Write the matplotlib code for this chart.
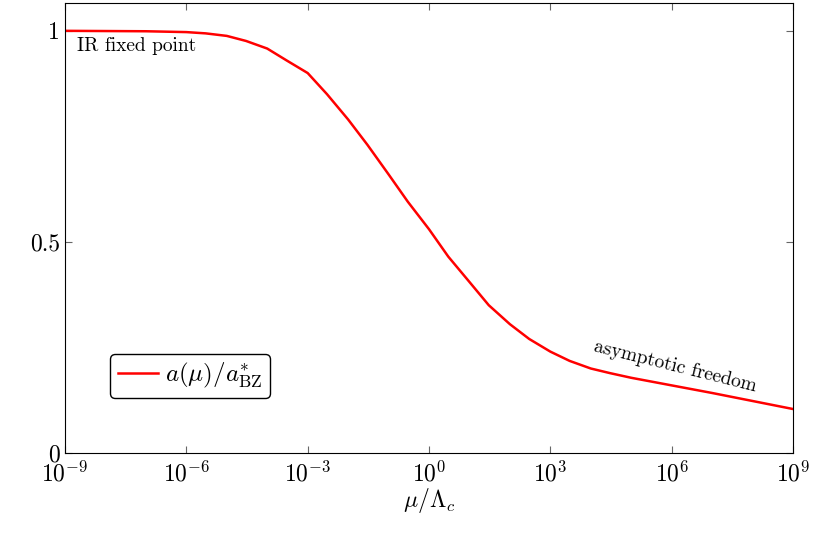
import matplotlib

matplotlib.use("Agg")

import matplotlib.pyplot as plt

plt.rcParams["mathtext.fontset"] = "cm"
plt.rcParams["font.family"] = "cmr10"
plt.rcParams["axes.formatter.use_mathtext"] = True

# curve (mu / Lambda_c, a / a*_BZ)
mu = [1e-9, 1e-8, 1e-7, 1e-6, 3e-6, 1e-5, 3e-5, 1e-4, 3e-4, 1e-3, 3e-3, 1e-2, 3e-2,
      1e-1, 3e-1, 1e0, 3e0, 1e1, 3e1, 1e2, 3e2, 1e3, 3e3, 1e4, 3e4, 1e5, 1e6, 1e7, 1e8, 1e9]
ratio = [1.0, 0.9995, 0.999, 0.997, 0.994, 0.988, 0.976, 0.958, 0.93, 0.9, 0.85, 0.79, 0.73,
         0.66, 0.595, 0.53, 0.465, 0.405, 0.35, 0.305, 0.27, 0.24, 0.218, 0.2, 0.189,
         0.178, 0.16, 0.142, 0.123, 0.104]

fig = plt.figure(figsize=(8.29, 5.51), dpi=100)
ax = fig.add_axes([0.0784, 0.178, 0.8782, 0.8166])
ax.plot(mu, ratio, color="red", linewidth=1.8, label=r"$a(\mu)/a^{*}_{\mathrm{BZ}}$")
ax.set_xscale("log")
ax.set_xlim(1e-9, 1e9)
ax.set_ylim(0, 1.066)
ax.set_xticks([1e-9, 1e-6, 1e-3, 1e0, 1e3, 1e6, 1e9])
ax.set_xticklabels([r"$10^{-9}$", r"$10^{-6}$", r"$10^{-3}$", r"$10^{0}$",
                    r"$10^{3}$", r"$10^{6}$", r"$10^{9}$"])
ax.minorticks_off()
ax.set_yticks([0, 0.5, 1])
ax.set_yticklabels(["0", "0.5", "1"])
ax.tick_params(direction="in", top=True, right=True, labelsize=17, length=5, color="#666666")
ax.tick_params(axis="x", pad=6)
ax.set_xlabel(r"$\mu/\Lambda_c$", fontsize=17, labelpad=0)

ax.text(2e-9, 0.985, "IR fixed point", fontsize=14, va="top", ha="left")
ax.text(1.2e6, 0.205, "asymptotic freedom", fontsize=14, ha="center", va="center", rotation=-14)

leg = ax.legend(loc="lower left", bbox_to_anchor=(0.045, 0.095), fontsize=18, fancybox=True,
                edgecolor="black", framealpha=1, handlelength=1.6, handletextpad=0.3,
                borderpad=0.3)
leg.get_frame().set_linewidth(1.0)

fig.savefig("out.png", dpi=100)
